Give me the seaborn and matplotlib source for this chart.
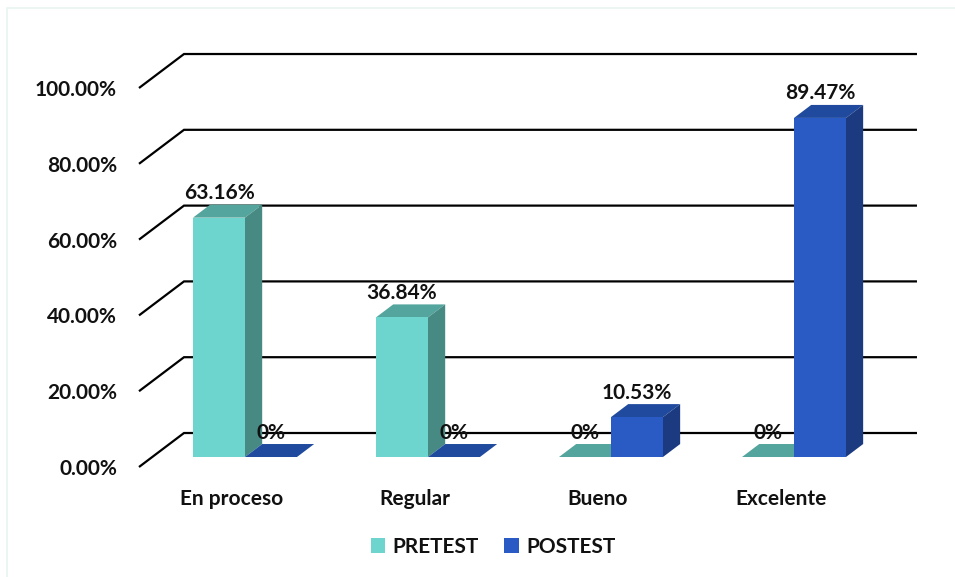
import matplotlib
matplotlib.use("Agg")
import matplotlib.pyplot as plt
from matplotlib.patches import Polygon, Patch, Rectangle
import pandas as pd
import seaborn as sns

# --- data -------------------------------------------------------------
categories = ["En proceso", "Regular", "Bueno", "Excelente"]
groups = ["PRETEST", "POSTEST"]
pretest = [63.16, 36.84, 0.0, 0.0]
postest = [0.0, 0.0, 10.53, 89.47]
y_ticks = [0, 20, 40, 60, 80, 100]
y_tick_labels = ["0.00%", "20.00%", "40.00%", "60.00%", "80.00%", "100.00%"]

# --- style ------------------------------------------------------------
front_colors = {"PRETEST": "#6dd4ce", "POSTEST": "#2a5bc4"}
top_colors = {"PRETEST": "#54a59d", "POSTEST": "#1f4a9e"}
side_colors = {"PRETEST": "#478a83", "POSTEST": "#1c3a7f"}
TEXT = "#111111"
FS = 15

df = pd.DataFrame({
    "categoria": categories * 2,
    "grupo": [groups[0]] * len(categories) + [groups[1]] * len(categories),
    "valor": pretest + postest,
})

sns.set_style("white")
plt.rcParams["font.family"] = ["Lato", "DejaVu Sans"]
plt.rcParams["font.weight"] = "bold"

W, H = 955, 577
fig = plt.figure(figsize=(W / 100, H / 100), dpi=100)
fig.patch.set_facecolor("white")
ax = fig.add_axes([139 / W, (H - 467) / H, (930 - 139) / W, (467 - 40) / H])

# pseudo-3D geometry (data units): full floor depth and where bars sit in it
DEPTH_X, DEPTH_Y = 0.2459, 8.97
BAR_FRONT = 0.294      # fraction of depth in front of the bars
BAR_DEPTH = 0.382      # fraction of depth taken by the bars
BAR_W = 0.284
WALL_LEFT = -0.3333    # back wall extent, in category units
WALL_RIGHT = len(categories) - 1 + 0.672

bdx, bdy = BAR_DEPTH * DEPTH_X, BAR_DEPTH * DEPTH_Y
fx, fy = BAR_FRONT * DEPTH_X, BAR_FRONT * DEPTH_Y

# front faces of the bars
sns.barplot(data=df, x="categoria", y="valor", hue="grupo",
            order=categories, hue_order=groups, palette=front_colors,
            width=2 * BAR_W, gap=0, saturation=1, errorbar=None,
            linewidth=0, legend=False, zorder=3, ax=ax)

x_left_front = WALL_LEFT - DEPTH_X

# back-wall gridlines with their slanted side-wall segment
for v in y_ticks:
    y_front = v - fy
    y_back = y_front + DEPTH_Y
    ax.plot([x_left_front, WALL_LEFT, WALL_RIGHT], [y_front, y_back, y_back],
            color="black", lw=1.6, zorder=1, clip_on=False,
            solid_joinstyle="miter", solid_capstyle="butt")

# top and side faces, plus value labels
for gi, (g, vals) in enumerate(zip(groups, [pretest, postest])):
    for i, v in enumerate(vals):
        x0 = i - BAR_W + gi * BAR_W
        x1 = x0 + BAR_W
        top = Polygon([(x0, v), (x1, v), (x1 + bdx, v + bdy), (x0 + bdx, v + bdy)],
                      closed=True, facecolor=top_colors[g], edgecolor="none", zorder=2)
        side = Polygon([(x1, 0), (x1 + bdx, bdy), (x1 + bdx, v + bdy), (x1, v)],
                       closed=True, facecolor=side_colors[g], edgecolor="none", zorder=2)
        ax.add_patch(top)
        ax.add_patch(side)
        label = "0%" if v == 0 else f"{v:.2f}%"
        ax.text(x0 + BAR_W / 2, v + bdy + 1.45, label, ha="center", va="baseline",
                fontsize=FS, fontweight="bold", color=TEXT, zorder=5)

ax.set_xlim(x_left_front, 3.7432)
ax.set_ylim(-fy, 110.03)
ax.set_xticks([i - fx for i in range(len(categories))], categories)
ax.set_yticks([v - fy for v in y_ticks], y_tick_labels)
ax.tick_params(axis="x", length=0, pad=16, labelsize=FS, labelcolor=TEXT)
ax.tick_params(axis="y", length=0, pad=15.8, labelsize=FS, labelcolor=TEXT)
for lab in ax.get_xticklabels() + ax.get_yticklabels():
    lab.set_fontweight("bold")
ax.set_xlabel("")
ax.set_ylabel("")
sns.despine(ax=ax, left=True, bottom=True)
ax.patch.set_alpha(0)

handles = [Patch(facecolor=front_colors[g], edgecolor="none", label=g) for g in groups]
fig.legend(handles=handles, loc="center", bbox_to_anchor=(493 / W, 1 - 547 / H),
           ncol=2, frameon=False, handlelength=0.7, handleheight=0.7,
           handletextpad=0.35, columnspacing=1.2,
           prop={"size": FS, "weight": "bold"}, labelcolor=TEXT)

fig.patches.append(Rectangle((7 / W, -0.1), 2, 1.1 - 8 / H, transform=fig.transFigure,
                             fill=False, edgecolor="#e8f5f1", lw=1.2))

fig.savefig("out.png", dpi=100, facecolor="white")
